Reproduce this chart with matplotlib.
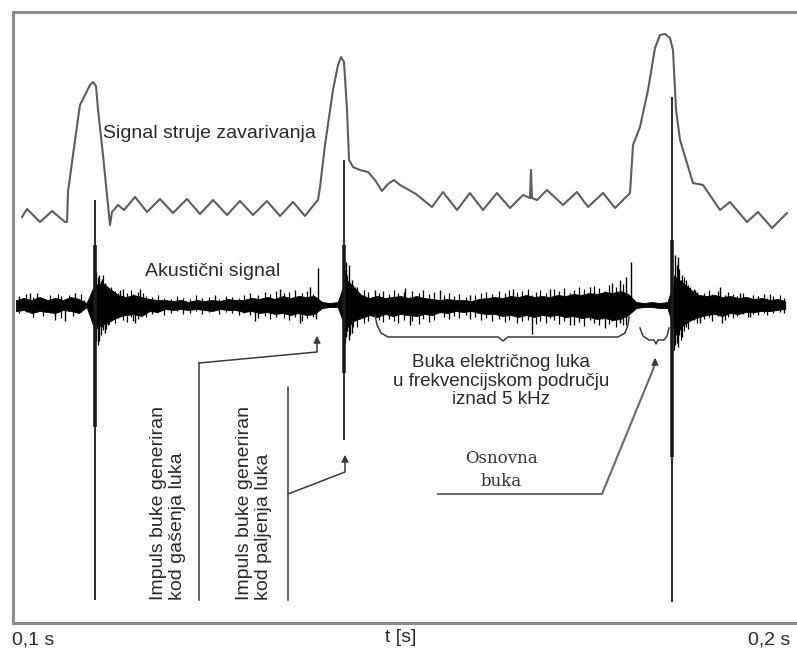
import matplotlib
matplotlib.use("Agg")
import matplotlib.pyplot as plt

SANS = ['Liberation Sans', 'DejaVu Sans']
SERIF = ['DejaVu Serif']

# welding current trace: time (ms) and level (display units)
cur_t = [101.27, 101.91, 103.57, 105.10, 106.75, 107.01, 107.13, 108.03, 108.66,
         109.30, 109.94, 110.32, 110.70, 110.96, 111.59, 112.48,
         112.74, 113.50, 114.27, 115.67, 117.20, 118.85, 120.51, 122.29, 123.95,
         125.61, 127.39, 129.04, 130.70, 132.48, 134.14, 135.80, 137.32, 138.85,
         138.98, 139.24, 139.87, 140.89, 141.53, 141.91, 142.29, 142.68, 142.93,
         143.44, 144.33, 145.35, 146.24, 147.13, 147.90, 148.66, 149.43, 151.46,
         153.50, 154.90, 156.69, 158.34, 160.00, 161.78, 163.44, 165.10, 165.99,
         166.11, 166.24, 166.88, 168.15, 170.19, 171.97, 173.38, 175.29, 176.82,
         178.73, 179.11, 180.00, 181.02, 181.91, 182.55, 183.18, 183.82, 184.20,
         184.59, 185.10, 186.75, 188.03, 190.19, 191.46, 193.63, 195.03, 196.82,
         198.73]
cur_y = [40.6, 41.4, 40.1, 41.2, 40.1, 40.1, 43.1, 48.3, 51.8,
         52.8, 53.8, 54.1, 53.7, 51.3, 46.8, 39.8,
         41.1, 41.8, 41.3, 42.6, 41.1, 42.4, 41.0, 42.4, 40.9,
         42.3, 40.8, 42.2, 40.8, 42.2, 40.7, 42.1, 40.7, 42.2,
         42.3, 43.6, 47.8, 53.3, 55.8, 56.6, 56.1, 51.3, 46.3,
         45.6, 45.3, 45.1, 44.3, 43.2, 43.9, 44.3, 43.8, 42.9,
         41.6, 43.1, 41.3, 43.0, 41.3, 43.0, 41.5, 42.8, 42.5,
         45.3, 42.5, 42.3, 43.3, 41.8, 43.1, 41.6, 43.0, 41.5,
         43.0, 47.8, 49.6, 53.3, 57.5, 58.8, 58.9, 58.5, 57.3,
         51.3, 48.3, 44.0, 43.8, 41.3, 42.1, 40.1, 41.1, 39.5,
         41.0]

# acoustic signal: envelope around its baseline, sampled every 1 ms
ac_base = 31.8
noise_t = [100.5, 101.5, 102.5, 103.5, 104.5, 105.5, 106.5, 107.5, 108.5, 109.5,
           110.5, 111.5, 112.5, 113.5, 114.5, 115.5, 116.5, 117.5, 118.5, 119.5,
           120.5, 121.5, 122.5, 123.5, 124.5, 125.5, 126.5, 127.5, 128.5, 129.5,
           130.5, 131.5, 132.5, 133.5, 134.5, 135.5, 136.5, 137.5, 138.5, 139.5,
           140.5, 141.5, 142.5, 143.5, 144.5, 145.5, 146.5, 147.5, 148.5, 149.5,
           150.5, 151.5, 152.5, 153.5, 154.5, 155.5, 156.5, 157.5, 158.5, 159.5,
           160.5, 161.5, 162.5, 163.5, 164.5, 165.5, 166.5, 167.5, 168.5, 169.5,
           170.5, 171.5, 172.5, 173.5, 174.5, 175.5, 176.5, 177.5, 178.5, 179.5,
           180.5, 181.5, 182.5, 183.5, 184.5, 185.5, 186.5, 187.5, 188.5, 189.5,
           190.5, 191.5, 192.5, 193.5, 194.5, 195.5, 196.5, 197.5, 198.5]
noise_hi = [0.5, 0.7, 0.5, 0.8, 0.5, 0.7, 0.5, 0.8, 0.6, 0.2,
            2.0, 2.2, 1.6, 1.0, 0.8, 1.0, 0.8, 0.6, 0.5, 0.5,
            0.4, 0.5, 0.3, 0.5, 0.4, 0.5, 0.4, 0.6, 0.5, 0.5,
            0.7, 0.6, 0.8, 0.6, 0.9, 0.7, 0.9, 0.8, 0.9, 0.3,
            0.2, 0.3, 2.6, 1.8, 1.0, 0.7, 0.9, 0.7, 0.8, 0.9,
            0.7, 0.9, 0.7, 0.6, 0.5, 0.6, 0.5, 0.5, 0.4, 0.6,
            0.7, 0.8, 0.7, 0.9, 0.8, 1.0, 0.8, 0.9, 0.8, 1.0,
            0.9, 1.1, 1.0, 1.2, 1.1, 1.3, 1.2, 1.4, 1.1, 0.3,
            0.2, 0.3, 0.2, 0.3, 2.8, 2.2, 1.5, 1.0, 0.9, 1.0,
            0.8, 0.9, 0.7, 0.8, 0.6, 0.7, 0.5, 0.6, 0.4]
noise_lo = [0.6, 0.5, 0.8, 0.6, 0.7, 0.8, 0.5, 0.6, 0.8, 0.2,
            2.4, 2.0, 1.6, 1.2, 1.0, 0.9, 1.1, 0.6, 0.7, 0.4,
            0.5, 0.4, 0.5, 0.4, 0.5, 0.6, 0.4, 0.5, 0.5, 0.7,
            0.6, 0.8, 0.7, 0.9, 0.8, 1.0, 0.8, 1.0, 0.9, 0.3,
            0.2, 0.2, 2.4, 1.6, 1.3, 1.0, 1.2, 0.9, 1.1, 0.9,
            1.0, 1.1, 0.9, 1.0, 0.7, 0.8, 0.6, 0.7, 0.6, 0.8,
            0.9, 0.9, 1.1, 1.0, 1.2, 1.0, 1.2, 1.0, 1.1, 1.0,
            1.2, 1.1, 1.3, 1.2, 1.4, 1.3, 1.5, 1.4, 1.0, 0.3,
            0.2, 0.2, 0.3, 0.3, 3.0, 2.0, 1.5, 1.2, 1.0, 0.9,
            1.1, 0.8, 0.9, 0.7, 0.7, 0.6, 0.6, 0.5, 0.4]

# larger single acoustic spikes: time, height above and depth below baseline
spike_t = [102.3, 105.5, 106.8, 108.0, 110.7, 111.1, 111.5, 111.8, 112.2, 113.8,
           115.7, 116.3, 125.9, 131.0, 134.1, 136.7, 138.0, 138.7, 139.0, 142.55,
           142.9, 143.3, 143.7, 146.2, 150.1, 150.7, 154.5, 158.3, 163.8, 166.2,
           168.5, 171.1, 173.6, 175.5, 176.4, 177.5, 178.2, 178.9, 184.5, 184.8,
           185.4, 185.9, 186.4, 187.0, 187.6, 190.2, 190.45, 192.7, 194.0, 196.6]
spike_hi = [1.2, 0.6, 0.4, 1.2, 3.3, 3.0, 2.6, 2.2, 1.8, 1.5,
            0.8, 1.6, 1.0, 0.7, 1.6, 0.9, 1.8, 0.8, 3.7, 4.3,
            4.0, 2.5, 1.8, 1.5, 1.7, 0.8, 1.5, 1.0, 1.6, 1.0,
            1.6, 1.2, 1.8, 1.4, 2.2, 2.5, 2.8, 4.3, 5.0, 4.8,
            3.0, 2.5, 1.8, 1.5, 0.9, 1.8, 0.8, 1.2, 0.6, 1.1]
spike_lo = [0.5, 1.5, 1.6, 0.6, 3.6, 3.6, 2.2, 2.8, 2.0, 1.0,
            1.8, 0.9, 0.5, 1.6, 0.8, 1.8, 1.0, 1.4, 0.3, 3.2,
            3.5, 2.8, 1.6, 1.2, 1.0, 2.0, 0.8, 1.4, 1.0, 2.9,
            1.3, 2.0, 1.5, 2.3, 1.6, 1.8, 2.0, 0.4, 4.0, 4.2,
            3.2, 2.2, 1.3, 1.0, 1.8, 1.0, 1.8, 0.8, 1.2, 0.6]

# fine spikes forming the ragged edge of the noise band
fine_t = [100.9, 101.8, 102.7, 103.2, 104.0, 104.8, 105.9, 106.3, 107.2, 107.8,
          108.8, 109.2, 110.9, 111.3, 111.65, 112.0, 112.4, 112.6, 113.1, 113.5,
          114.1, 114.6, 115.1, 115.4, 116.0, 116.7, 117.1, 117.8, 118.6, 119.3,
          120.2, 121.0, 121.8, 122.7, 123.4, 124.2, 125.1, 126.4, 127.2, 128.0,
          128.9, 129.6, 130.3, 131.4, 132.2, 132.9, 133.6, 134.7, 135.3, 136.1,
          137.0, 137.6, 138.3, 142.4, 142.7, 143.1, 143.5, 144.0, 144.8, 145.4,
          146.7, 147.3, 148.0, 148.7, 149.2, 149.9, 151.0, 151.8, 152.4, 153.1,
          153.8, 155.0, 155.7, 156.3, 157.0, 157.8, 159.0, 159.7, 160.4, 161.2,
          162.0, 162.8, 163.3, 164.3, 165.0, 165.7, 166.7, 167.3, 168.0, 169.0,
          169.7, 170.3, 171.6, 172.2, 172.9, 174.2, 174.8, 176.0, 176.9, 177.8,
          184.3, 184.65, 185.0, 185.2, 185.6, 186.1, 186.9, 187.3, 188.2, 188.8,
          189.2, 189.9, 190.8, 191.2, 191.9, 192.3, 193.1, 193.8, 194.4, 195.0,
          195.8, 196.2, 197.0, 197.8, 198.3]
fine_hi = [0.9, 1.1, 0.8, 1.2, 0.7, 1.0, 1.1, 0.9, 1.0, 0.6,
           1.1, 0.5, 2.8, 2.4, 3.0, 2.0, 1.6, 1.8, 1.4, 1.2,
           1.6, 1.2, 1.5, 1.1, 1.3, 1.2, 0.9, 0.8, 1.0, 0.7,
           0.6, 0.9, 0.7, 0.6, 1.0, 0.7, 0.8, 0.6, 0.9, 0.8,
           0.7, 1.0, 1.2, 1.0, 1.3, 1.1, 1.4, 1.2, 1.3, 1.5,
           1.2, 1.4, 1.1, 3.5, 3.0, 2.2, 2.0, 1.8, 1.5, 1.3,
           1.2, 1.4, 1.1, 1.5, 1.2, 1.3, 1.4, 1.2, 1.5, 1.1,
           1.3, 1.0, 1.2, 0.9, 1.1, 0.8, 1.0, 1.2, 1.3, 1.1,
           1.4, 1.2, 1.5, 1.3, 1.4, 1.6, 1.3, 1.5, 1.2, 1.6,
           1.4, 1.7, 1.5, 1.8, 1.6, 1.9, 1.7, 2.0, 1.8, 2.1,
           3.0, 4.0, 3.6, 2.5, 2.8, 2.0, 1.6, 1.3, 1.2, 1.5,
           1.1, 1.4, 1.0, 1.3, 1.1, 0.9, 1.2, 0.8, 1.0, 0.9,
           1.1, 0.7, 0.9, 1.0, 0.7]
fine_lo = [0.8, 0.7, 1.2, 0.6, 1.1, 0.8, 0.7, 1.3, 0.6, 1.1,
           0.7, 0.4, 4.0, 3.0, 2.5, 2.4, 1.9, 1.6, 1.8, 1.3,
           1.5, 1.7, 1.2, 1.6, 1.4, 1.0, 1.2, 0.9, 0.7, 1.0,
           0.8, 0.6, 0.9, 0.8, 0.6, 0.9, 0.7, 0.9, 0.7, 0.8,
           1.0, 0.8, 1.0, 1.3, 1.1, 1.4, 1.2, 1.3, 1.5, 1.2,
           1.6, 1.3, 1.2, 3.8, 2.6, 3.0, 2.2, 2.2, 1.8, 1.6,
           1.5, 1.7, 1.4, 1.6, 1.8, 1.5, 1.6, 1.9, 1.4, 1.7,
           1.5, 1.2, 1.4, 1.1, 1.3, 1.0, 1.2, 1.5, 1.3, 1.6,
           1.4, 1.7, 1.5, 1.8, 1.6, 1.5, 1.9, 1.6, 1.8, 1.5,
           1.9, 1.6, 2.0, 1.7, 2.1, 1.8, 2.0, 1.9, 2.2, 2.0,
           4.5, 3.8, 3.0, 3.5, 2.6, 2.4, 1.5, 1.8, 1.4, 1.2,
           1.6, 1.1, 1.5, 1.2, 1.3, 1.1, 0.9, 1.2, 0.9, 1.0,
           0.8, 1.0, 0.8, 0.7, 0.8]

# the three long impulses (arc extinction / ignition)
imp_t = [110.57, 142.29, 184.05]
imp_top = [42.3, 46.3, 52.6]
imp_bottom = [2.3, 18.3, 2.1]
imp_core_top = [37.8, 37.8, 38.3]
imp_core_bottom = [19.6, 25.0, 16.6]

fig = plt.figure(figsize=(7.97, 6.52), dpi=100)
ax = fig.add_axes([0, 0, 1, 1])
ax.set_xlim(98.47, 200.0)
ax.set_ylim(-2.9, 62.3)
ax.axis('off')

# display frame
frame_col = '#8c8c8c'
ax.plot([200.5, 100.13, 100.13, 200.5], [61.1, 61.1, 0.0, 0.0],
        color=frame_col, lw=2.2, clip_on=False, solid_joinstyle='miter')

# current trace
ax.plot(cur_t, cur_y, color='#5e5e5e', lw=1.5, solid_joinstyle='round')

# acoustic trace
ax.fill_between(noise_t, [ac_base - l for l in noise_lo],
                [ac_base + h for h in noise_hi], color='black', lw=0.6)
ax.vlines(fine_t, [ac_base - l for l in fine_lo], [ac_base + h for h in fine_hi],
          color='black', lw=0.9)
ax.vlines(spike_t, [ac_base - l for l in spike_lo], [ac_base + h for h in spike_hi],
          color='black', lw=1.0)

ax.vlines(imp_t, imp_bottom, imp_top, color='#1a1a1a', lw=1.3)
ax.vlines(imp_t, imp_core_bottom, imp_core_top, color='#1a1a1a', lw=2.6)

# annotation lines
ann_col = '#3a3a3a'
ax.plot([123.82, 123.82], [2.3, 26.0], color=ann_col, lw=1.1)
ax.plot([123.82, 138.85, 138.85], [26.0, 27.1, 28.0], color=ann_col, lw=1.1)
ax.annotate('', xy=(138.85, 29.0), xytext=(138.85, 27.9),
            arrowprops=dict(arrowstyle='-|>', color=ann_col, lw=1.1, mutation_scale=10))

ax.plot([135.16, 135.16], [2.3, 23.6], color=ann_col, lw=1.1)
ax.plot([135.16, 142.42, 142.42], [12.9, 15.1, 16.1], color=ann_col, lw=1.1)
ax.annotate('', xy=(142.42, 17.1), xytext=(142.42, 16.0),
            arrowprops=dict(arrowstyle='-|>', color=ann_col, lw=1.1, mutation_scale=10))

ax.plot([154.27, 175.16, 181.53, 181.91], [12.9, 12.9, 25.1, 25.9],
        color='#6a6a6a', lw=1.5)
ax.annotate('', xy=(181.91, 26.8), xytext=(181.91, 25.8),
            arrowprops=dict(arrowstyle='-|>', color=ann_col, lw=1.1, mutation_scale=10))

# braces
ax.plot([146.24, 146.50, 147.01, 147.90, 161.91, 162.55, 163.18, 177.20, 178.09, 178.47, 178.60],
        [30.8, 29.8, 29.0, 28.6, 28.6, 28.2, 28.6, 28.6, 29.0, 29.8, 30.6],
        color=ann_col, lw=1.1)
ax.plot([180.00, 180.38, 181.15, 181.78, 182.04, 182.29, 183.06, 183.44, 183.69],
        [29.5, 28.7, 28.3, 28.3, 27.9, 28.3, 28.3, 28.7, 29.5],
        color=ann_col, lw=1.1)

# texts
txt_col = '#2a2a2a'
fs = 14
ax.text(111.59, 49.0, 'Signal struje zavarivanja', family=SANS, fontsize=fs,
        color=txt_col, ha='left', va='center')
ax.text(116.94, 35.1, 'Akustični signal', family=SANS, fontsize=fs,
        color=txt_col, ha='left', va='center')
ax.text(119.87, 2.3, 'Impuls buke generiran\nkod gašenja luka', family=SANS,
        fontsize=fs, color=txt_col, rotation=90, ha='center', va='bottom',
        multialignment='left', linespacing=1.1)
ax.text(130.83, 2.3, 'Impuls buke generiran\nkod paljenja luka', family=SANS,
        fontsize=fs, color=txt_col, rotation=90, ha='center', va='bottom',
        multialignment='left', linespacing=1.1)
ax.text(162.29, 24.2, 'Buka električnog luka\nu frekvencijskom području\niznad 5 kHz',
        family=SANS, fontsize=13.5, color=txt_col, ha='center', va='center',
        linespacing=1.15)
ax.text(162.29, 15.3, 'Osnovna\nbuka', family=SERIF, fontsize=12, color='#333333',
        ha='center', va='center', linespacing=1.45)

ax.text(100.0, -1.7, '0,1 s', family=SANS, fontsize=fs, color=txt_col,
        ha='left', va='center')
ax.text(149.55, -1.4, 't [s]', family=SANS, fontsize=fs, color=txt_col,
        ha='center', va='center')
ax.text(199.1, -1.7, '0,2 s', family=SANS, fontsize=fs, color=txt_col,
        ha='right', va='center')

fig.savefig('out.png', dpi=100)
